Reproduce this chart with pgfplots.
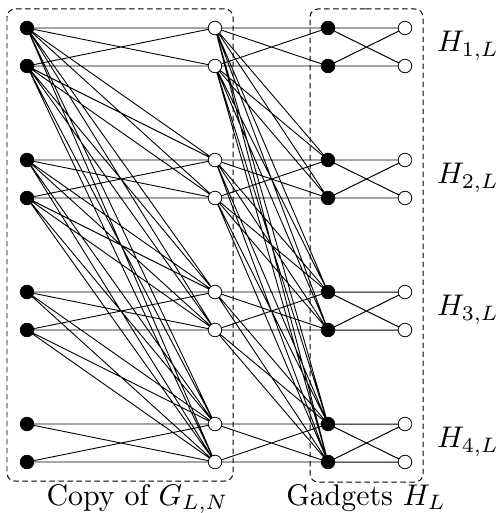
\documentclass[border=0pt]{standalone}
\usepackage{pgfplots}
\pgfplotsset{compat=1.18}
\begin{document}
\begin{tikzpicture}
\begin{axis}[
  scale only axis,
  width=497bp, height=513bp,
  xmin=0, xmax=497, ymin=0, ymax=513,
  y dir=reverse,
  hide axis,
  clip=false,
  unbounded coords=jump,
  edge/.style={black, line width=0.9pt, no marks, forget plot},
  box/.style={black, line width=1.0pt, dash pattern=on 5.5bp off 3.5bp, rounded corners=8bp, no marks, forget plot},
]
% Copy of G_{L,N}: A (black) -> B (white)
\addplot[edge] coordinates {
(27,28) (215,28) (nan,nan)
(27,28) (215,66) (nan,nan)
(27,28) (215,160) (nan,nan)
(27,28) (215,198) (nan,nan)
(27,28) (215,292) (nan,nan)
(27,28) (215,330) (nan,nan)
(27,28) (215,424) (nan,nan)
(27,28) (215,462) (nan,nan)
(27,66) (215,28) (nan,nan)
(27,66) (215,66) (nan,nan)
(27,66) (215,160) (nan,nan)
(27,66) (215,198) (nan,nan)
(27,66) (215,292) (nan,nan)
(27,66) (215,330) (nan,nan)
(27,66) (215,424) (nan,nan)
(27,66) (215,462) (nan,nan)
(27,160) (215,160) (nan,nan)
(27,160) (215,198) (nan,nan)
(27,160) (215,292) (nan,nan)
(27,160) (215,330) (nan,nan)
(27,160) (215,424) (nan,nan)
(27,160) (215,462) (nan,nan)
(27,198) (215,160) (nan,nan)
(27,198) (215,198) (nan,nan)
(27,198) (215,292) (nan,nan)
(27,198) (215,330) (nan,nan)
(27,198) (215,424) (nan,nan)
(27,198) (215,462) (nan,nan)
(27,292) (215,292) (nan,nan)
(27,292) (215,330) (nan,nan)
(27,292) (215,424) (nan,nan)
(27,292) (215,462) (nan,nan)
(27,330) (215,292) (nan,nan)
(27,330) (215,330) (nan,nan)
(27,330) (215,424) (nan,nan)
(27,330) (215,462) (nan,nan)
(27,424) (215,424) (nan,nan)
(27,424) (215,462) (nan,nan)
(27,462) (215,424) (nan,nan)
(27,462) (215,462)
};
% B (white) -> C (black)
\addplot[edge] coordinates {
(215,28) (328,28) (nan,nan)
(215,28) (328,66) (nan,nan)
(215,28) (328,160) (nan,nan)
(215,28) (328,198) (nan,nan)
(215,28) (328,292) (nan,nan)
(215,28) (328,330) (nan,nan)
(215,28) (328,424) (nan,nan)
(215,28) (328,462) (nan,nan)
(215,66) (328,28) (nan,nan)
(215,66) (328,66) (nan,nan)
(215,66) (328,160) (nan,nan)
(215,66) (328,198) (nan,nan)
(215,66) (328,292) (nan,nan)
(215,66) (328,330) (nan,nan)
(215,66) (328,424) (nan,nan)
(215,66) (328,462) (nan,nan)
(215,160) (328,160) (nan,nan)
(215,160) (328,198) (nan,nan)
(215,160) (328,292) (nan,nan)
(215,160) (328,330) (nan,nan)
(215,160) (328,424) (nan,nan)
(215,160) (328,462) (nan,nan)
(215,198) (328,160) (nan,nan)
(215,198) (328,198) (nan,nan)
(215,198) (328,292) (nan,nan)
(215,198) (328,330) (nan,nan)
(215,198) (328,424) (nan,nan)
(215,198) (328,462) (nan,nan)
(215,292) (328,292) (nan,nan)
(215,292) (328,330) (nan,nan)
(215,292) (328,424) (nan,nan)
(215,292) (328,462) (nan,nan)
(215,330) (328,292) (nan,nan)
(215,330) (328,330) (nan,nan)
(215,330) (328,424) (nan,nan)
(215,330) (328,462) (nan,nan)
(215,424) (328,424) (nan,nan)
(215,424) (328,462) (nan,nan)
(215,462) (328,424) (nan,nan)
(215,462) (328,462)
};
% gadgets H_{i,L}: C (black) -> D (white)
\addplot[edge, line width=1pt] coordinates {
(328,28) (405,28) (nan,nan)
(328,28) (405,66) (nan,nan)
(328,66) (405,28) (nan,nan)
(328,66) (405,66) (nan,nan)
(328,160) (405,160) (nan,nan)
(328,160) (405,198) (nan,nan)
(328,198) (405,160) (nan,nan)
(328,198) (405,198) (nan,nan)
(328,292) (405,292) (nan,nan)
(328,292) (405,330) (nan,nan)
(328,330) (405,292) (nan,nan)
(328,330) (405,330) (nan,nan)
(328,424) (405,424) (nan,nan)
(328,424) (405,462) (nan,nan)
(328,462) (405,424) (nan,nan)
(328,462) (405,462)
};
% dashed boxes
\addplot[box] coordinates {(120,9) (233,9) (233,481) (7,481) (7,9) (121,9)};
\addplot[box] coordinates {(366,9) (423,9) (423,482) (310,482) (310,9) (367,9)};
% vertices
\addplot[only marks, mark=*, mark size=6.8pt, mark options={fill=black, draw=black, line width=0.8pt}, forget plot] coordinates {
(27,28) (27,66) (27,160) (27,198) (27,292) (27,330) (27,424) (27,462)
(328,28) (328,66) (328,160) (328,198) (328,292) (328,330) (328,424) (328,462)
};
\addplot[only marks, mark=*, mark size=6.8pt, mark options={fill=white, draw=black, line width=0.8pt}, forget plot] coordinates {
(215,28) (215,66) (215,160) (215,198) (215,292) (215,330) (215,424) (215,462)
(405,28) (405,66) (405,160) (405,198) (405,292) (405,330) (405,424) (405,462)
};
\node[scale=3.0, anchor=base] at (axis cs:137.5,505) {Copy of $G_{L,N}$};
\node[scale=3.0, anchor=base] at (axis cs:366,505) {Gadgets $H_L$};
\node[scale=3.0] at (axis cs:468,46) {$H_{1,L}$};
\node[scale=3.0] at (axis cs:468,178) {$H_{2,L}$};
\node[scale=3.0] at (axis cs:468,310) {$H_{3,L}$};
\node[scale=3.0] at (axis cs:468,442) {$H_{4,L}$};
\end{axis}
\pgfresetboundingbox
\path (current axis.south west) rectangle (current axis.north east);
\end{tikzpicture}
\end{document}
